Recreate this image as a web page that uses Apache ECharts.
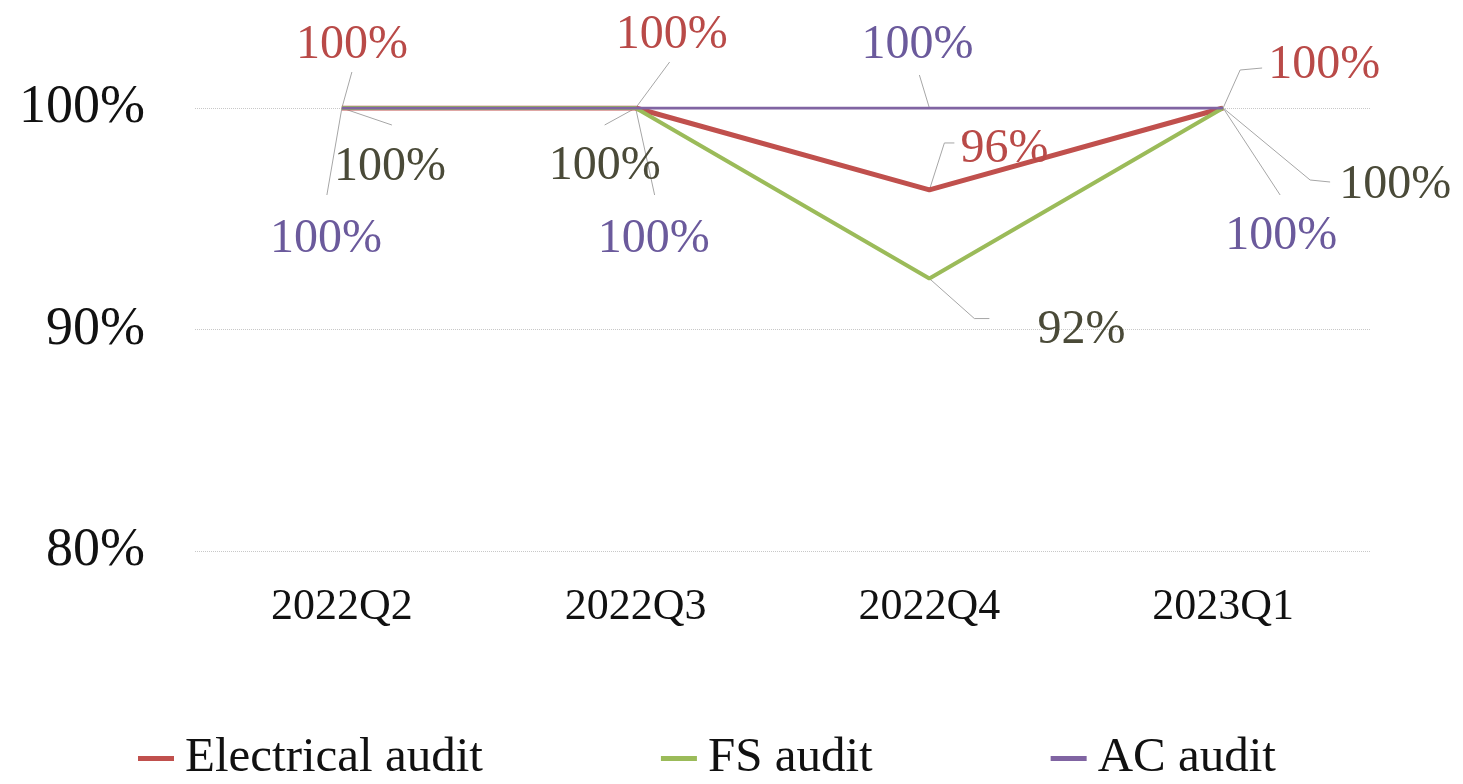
<!DOCTYPE html>
<html>
<head>
<meta charset="utf-8">
<script src="https://cdn.jsdelivr.net/npm/echarts@6/dist/echarts.min.js"></script>
<style>
  html, body { margin: 0; padding: 0; background: #fff; }
  #main { width: 1463px; height: 784px; }
</style>
</head>
<body>
<div id="main"></div>
<script>
// quarters on the x axis
var quarters = ["2022Q2", "2022Q3", "2022Q4", "2023Q1"];
// audit completion rates, %
var electricalAudit = [100, 100, 96.3, 100];
var fsAudit = [100, 100, 92.3, 100];
var acAudit = [100, 100, 100, 100];
var yTicks = [80, 90, 100];

var fontName = "Liberation Serif";

// where each data label sits relative to its point (px)
var labelOffsets = [
  [[10, -63], [36, -73], [75, -41], [101, -43]],
  [[48, 59], [-31, 58], [152, 52], [172, 77]],
  [[-16, 131], [18, 131], [-12, -63], [58, 128]]
];
// leader line bends, relative to the point (px)
var leaderBends = [
  [[[10, -36]], [[34, -46]], [[15, -47], [25, -47]], [[17, -38], [39, -40]]],
  [[[50, 17]], [[-31, 17]], [[45, 40], [60, 40]], [[87, 72], [107, 74]]],
  [[[-15, 87]], [[19, 87]], [[-10, -33]], [[57, 87]]]
];

var myChart = echarts.init(document.getElementById("main"));

function makeSeries(name, data, color, width, labelColor) {
  return {
    name: name,
    type: "line",
    data: data,
    symbol: "circle",
    symbolSize: 0,
    showSymbol: true,
    itemStyle: { color: color },
    lineStyle: { color: color, width: width },
    label: {
      show: true,
      position: "inside",
      formatter: function (p) { return Math.round(p.value) + "%"; },
      color: labelColor,
      fontFamily: fontName,
      fontSize: 48
    },
    labelLayout: function (params) {
      var off = labelOffsets[params.seriesIndex][params.dataIndex];
      return { dx: off[0], dy: off[1] };
    },
    emphasis: { disabled: true }
  };
}

var seriesData = [electricalAudit, fsAudit, acAudit];

var option = {
  animation: false,
  grid: { left: 195, right: 93, top: 108, bottom: 233 },
  xAxis: {
    type: "category",
    data: quarters,
    boundaryGap: true,
    axisLine: { show: false },
    axisTick: { show: false },
    axisLabel: {
      margin: 34,
      color: "#111",
      fontFamily: fontName,
      fontSize: 44
    }
  },
  yAxis: {
    type: "value",
    min: yTicks[0],
    max: yTicks[yTicks.length - 1],
    interval: 10,
    axisLine: { show: false },
    axisTick: { show: false },
    axisLabel: {
      margin: 50,
      color: "#111",
      fontFamily: fontName,
      fontSize: 54,
      formatter: "{value}%"
    },
    splitLine: {
      lineStyle: { color: "#c8c8c8", type: "dotted", width: 1 }
    }
  },
  legend: {
    left: 133,
    bottom: -4,
    itemWidth: 36,
    itemHeight: 5,
    itemGap: 178,
    icon: "rect",
    textStyle: { fontFamily: fontName, fontSize: 49, color: "#111", padding: [0, 0, 0, 6] },
    data: ["Electrical audit", "FS audit", "AC audit"]
  },
  series: [
    makeSeries("Electrical audit", electricalAudit, "#C0504D", 5, "#B94A48"),
    makeSeries("FS audit", fsAudit, "#9BBB59", 4, "#4a4a38"),
    makeSeries("AC audit", acAudit, "#8064A2", 3, "#6b5a9c")
  ]
};

myChart.setOption(option);

// leader lines from each point to its label
var leaders = [];
seriesData.forEach(function (data, s) {
  data.forEach(function (v, i) {
    var p = myChart.convertToPixel({ xAxisIndex: 0, yAxisIndex: 0 }, [quarters[i], v]);
    var pts = [p];
    leaderBends[s][i].forEach(function (b) { pts.push([p[0] + b[0], p[1] + b[1]]); });
    leaders.push({
      type: "polyline",
      z: 1,
      silent: true,
      shape: { points: pts },
      style: { stroke: "#a6a6a6", lineWidth: 1, fill: null }
    });
  });
});
myChart.setOption({ graphic: leaders });
</script>
</body>
</html>
